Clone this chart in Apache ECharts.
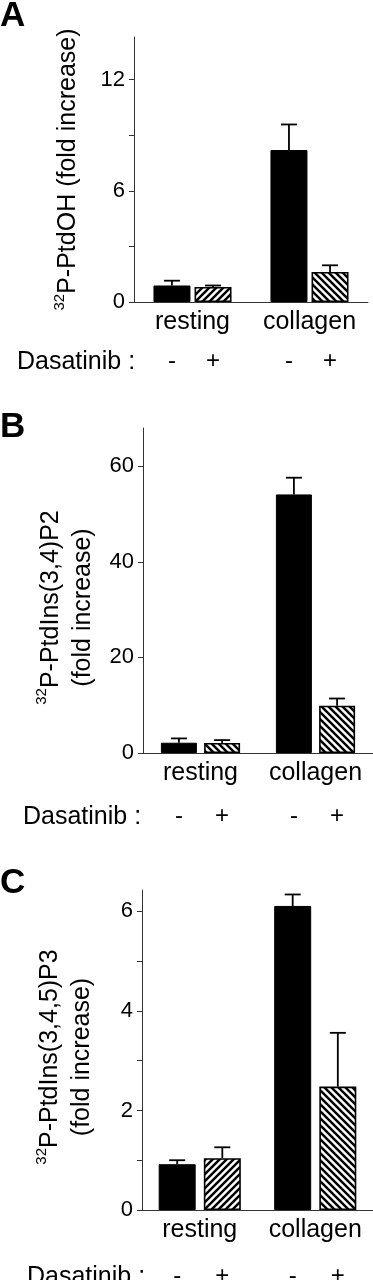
<!DOCTYPE html>
<html lang="en">
<head>
    <meta charset="UTF-8">
    <title>Dasatinib lipid panels</title>
    <script src="https://cdn.jsdelivr.net/npm/echarts@6/dist/echarts.min.js"></script>
    <style>
        body { margin: 0; background: #fff; }
    </style>
</head>
<body>
<div id="main" style="width: 373px;height: 1280px"></div>

<script>
    // categories and treatment marks
    const groups = ['resting', 'collagen'];
    const signs = ['-', '+'];

    // panel A: 32P-PtdOH
    const ptdohControl = [0.89, 8.2];
    const ptdohControlErr = [0.26, 1.38];
    const ptdohDasatinib = [0.81, 1.62];
    const ptdohDasatinibErr = [0.08, 0.36];
    const ticksA = [0, 3, 6, 9, 12];
    const labelsA = [0, 6, 12];

    // panel B: 32P-PtdIns(3,4)P2
    const pip2Control = [2.15, 54.1];
    const pip2ControlErr = [0.9, 3.5];
    const pip2Dasatinib = [2.1, 9.9];
    const pip2DasatinibErr = [0.6, 1.5];
    const ticksB = [0, 20, 40, 60];
    const labelsB = [0, 20, 40, 60];

    // panel C: 32P-PtdIns(3,4,5)P3
    const pip3Control = [0.92, 6.11];
    const pip3ControlErr = [0.08, 0.23];
    const pip3Dasatinib = [1.04, 2.48];
    const pip3DasatinibErr = [0.22, 1.08];
    const ticksC = [0, 1, 2, 3, 4, 5, 6];
    const labelsC = [0, 2, 4, 6];

    const font = "'Liberation Sans', Arial, sans-serif";

    // diagonal hatch tile, '/' or '\'
    function hatch(dir) {
        const s = 7;
        const c = document.createElement('canvas');
        c.width = s; c.height = s;
        const ctx = c.getContext('2d');
        ctx.fillStyle = '#fff';
        ctx.fillRect(0, 0, s, s);
        ctx.strokeStyle = '#000';
        ctx.lineWidth = 2.5;
        const segs = dir === '/'
            ? [[0, s, s, 0], [-1, 1, 1, -1], [s - 1, s + 1, s + 1, s - 1]]
            : [[0, 0, s, s], [-1, s - 1, 1, s + 1], [s - 1, -1, s + 1, 1]];
        segs.forEach(function (p) {
            ctx.beginPath();
            ctx.moveTo(p[0], p[1]);
            ctx.lineTo(p[2], p[3]);
            ctx.stroke();
        });
        return {image: c, repeat: 'repeat'};
    }
    const fwd = hatch('/');
    const back = hatch('\\');

    function errRender(w, gap) {
        return function (params, api) {
            const cat = api.value(0), top = api.value(1), err = api.value(2), side = api.value(3);
            const p0 = api.coord([cat, top]);
            const p1 = api.coord([cat, top + err]);
            const x = p0[0] + (side ? 1 : -1) * w * (1 + gap) / 2;
            const st = {stroke: '#000', lineWidth: 1.8};
            return {
                type: 'group',
                children: [
                    {type: 'line', shape: {x1: x, y1: p0[1], x2: x, y2: p1[1]}, style: st},
                    {type: 'line', shape: {x1: x - 8, y1: p1[1], x2: x + 8, y2: p1[1]}, style: st}
                ]
            };
        };
    }

    const panels = [
        {grid: {left: 134, top: 37, width: 234, height: 265}, max: 14.3, ticks: ticksA, labels: labelsA,
            name: '{sup|32}P-PtdOH (fold increase)', nameGap: 50, namePad: [0, 0, 0, 0],
            ctl: ptdohControl, ctlErr: ptdohControlErr, das: ptdohDasatinib, dasErr: ptdohDasatinibErr,
            hatches: [fwd, back], w: 37, gap: 0.11, signDist: 47},
        {grid: {left: 143, top: 428, width: 236, height: 325}, max: 68, ticks: ticksB, labels: labelsB,
            name: '{sup|32}P-PtdIns(3,4)P2\n(fold increase)', nameGap: 44, namePad: [0, 34, 0, 0],
            ctl: pip2Control, ctlErr: pip2ControlErr, das: pip2Dasatinib, dasErr: pip2DasatinibErr,
            hatches: [back, back], w: 36, gap: 0.2, signDist: 51},
        {grid: {left: 142, top: 890, width: 232, height: 320}, max: 6.43, ticks: ticksC, labels: labelsC,
            name: '{sup|32}P-PtdIns(3,4,5)P3\n(fold increase)', nameGap: 44, namePad: [0, 14, 0, 0],
            ctl: pip3Control, ctlErr: pip3ControlErr, das: pip3Dasatinib, dasErr: pip3DasatinibErr,
            hatches: [fwd, back], w: 37, gap: 0.22, signDist: 54}
    ];

    const option = {
        animation: false,
        backgroundColor: '#fff',
        textStyle: {fontFamily: font},
        grid: [], xAxis: [], yAxis: [], series: [],
        graphic: []
    };

    panels.forEach(function (p, i) {
        option.grid.push(p.grid);
        option.xAxis.push({
            type: 'category', gridIndex: i, data: groups,
            axisLine: {lineStyle: {color: '#333', width: 1}},
            axisTick: {length: 4, lineStyle: {color: '#333'}},
            axisLabel: {color: '#000', fontSize: 25, margin: 8, fontFamily: font, interval: 0, hideOverlap: false}
        });
        option.yAxis.push({
            type: 'value', gridIndex: i, min: 0, max: p.max,
            splitLine: {show: false},
            axisLine: {show: true, lineStyle: {color: '#333', width: 1}},
            axisTick: {show: true, length: 5, customValues: p.ticks, lineStyle: {color: '#333'}},
            axisLabel: {color: '#000', fontSize: 22, margin: 9, fontFamily: font, customValues: p.labels},
            name: p.name, nameLocation: 'middle', nameRotate: 90, nameGap: p.nameGap,
            nameTextStyle: {
                color: '#000', fontSize: 25, lineHeight: 32, fontFamily: font, padding: p.namePad,
                rich: {sup: {fontSize: 15, verticalAlign: 'top', color: '#000', fontFamily: font}}
            }
        });
        const signLabel = function (txt) {
            return {show: true, position: 'bottom', distance: p.signDist, formatter: txt,
                color: '#000', fontSize: 24, fontFamily: font};
        };
        option.series.push({
            type: 'bar', xAxisIndex: i, yAxisIndex: i, data: p.ctl,
            barWidth: p.w, barGap: (p.gap * 100) + '%',
            itemStyle: {color: '#000', borderColor: '#000', borderWidth: 1},
            label: signLabel(signs[0]), z: 2
        });
        option.series.push({
            type: 'bar', xAxisIndex: i, yAxisIndex: i,
            data: p.das.map(function (v, k) { return {value: v, itemStyle: {color: p.hatches[k]}}; }),
            barWidth: p.w,
            itemStyle: {borderColor: '#000', borderWidth: 1.6},
            label: signLabel(signs[1]), z: 2
        });
        const errData = [];
        groups.forEach(function (g, k) {
            errData.push([k, p.ctl[k], p.ctlErr[k], 0]);
            errData.push([k, p.das[k], p.dasErr[k], 1]);
        });
        option.series.push({
            type: 'custom', xAxisIndex: i, yAxisIndex: i, data: errData,
            encode: {x: 0, y: 1}, renderItem: errRender(p.w, p.gap), z: 3
        });
    });

    // panel letters and row caption
    [['A', -1], ['B', 410], ['C', 866]].forEach(function (l) {
        option.graphic.push({type: 'text', x: 0, y: l[1],
            style: {text: l[0], fill: '#000', font: 'bold 35px ' + font}});
    });
    [[17, 362], [23, 817], [27, 1277]].forEach(function (d) {
        option.graphic.push({type: 'text', x: d[0], y: d[1],
            style: {text: 'Dasatinib :', fill: '#000', font: '25px ' + font, verticalAlign: 'middle'}});
    });

    const myChart = echarts.init(document.getElementById('main'));
    myChart.setOption(option);
</script>
</body>
</html>
